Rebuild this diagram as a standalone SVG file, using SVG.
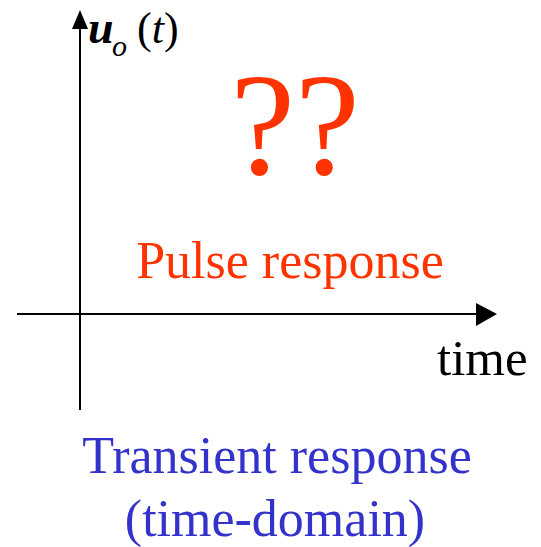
<svg xmlns="http://www.w3.org/2000/svg" width="541" height="547" viewBox="0 0 541 547">
<style>
.t{font-family:"Liberation Serif","Times New Roman",serif;}
.red{fill:#FF3300;}
.blue{fill:#3333CC;}
.ax{stroke:#000;stroke-width:2;fill:none;}
</style>
<g id="connectors">
<line class="ax" x1="80" y1="410" x2="80" y2="28"/>
<path d="M72,29 L80,10 L88,29 Z" fill="#000"/>
<line class="ax" x1="17" y1="314" x2="478" y2="314"/>
<path d="M476,303 L497,314 L476,326 Z" fill="#000"/>
</g>
<g id="ylabel">
<text class="t" x="88" y="43" font-size="46" font-weight="bold" font-style="italic">u</text>
<text class="t" x="112" y="56" font-size="30" font-style="italic">o</text>
<text class="t" x="137" y="43" font-size="44">(<tspan font-style="italic">t</tspan>)</text>
</g>
<g id="qmarks">
<text class="t red" x="295" y="174" font-size="146" text-anchor="middle">??</text>
</g>
<g id="pulse">
<text class="t red" x="290" y="278" font-size="52" text-anchor="middle">Pulse response</text>
</g>
<g id="xlabel">
<text class="t" x="437" y="375" font-size="51">time</text>
</g>
<g id="caption">
<text class="t blue" x="277" y="473" font-size="52" text-anchor="middle">Transient response</text>
<text class="t blue" x="275" y="536" font-size="52" text-anchor="middle">(time-domain)</text>
</g>
</svg>
